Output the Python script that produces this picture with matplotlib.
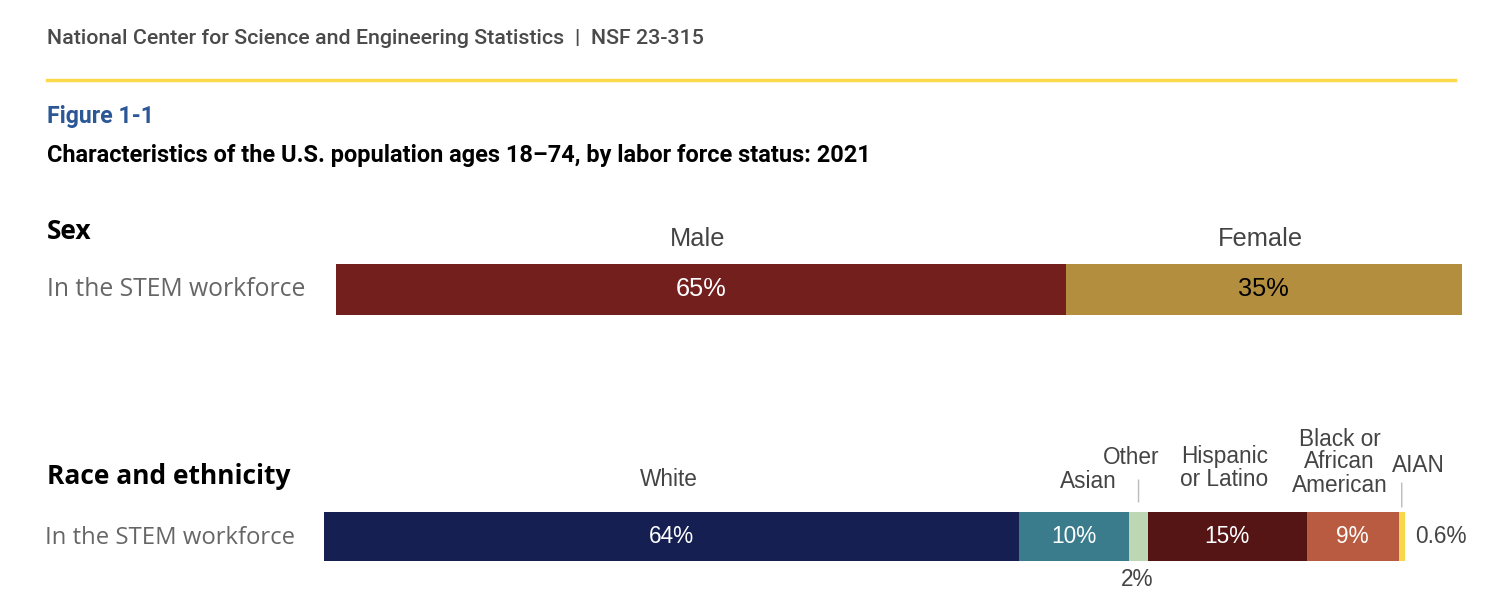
import matplotlib.pyplot as plt
import numpy as np

W, H = 1492, 610

# data
sex_cats = ['Male', 'Female']
sex_vals = [64.8, 35.2]
sex_labels = ['65%', '35%']
sex_colors = ['#731f1e', '#b38e3f']
sex_text = ['white', 'black']

race_cats = ['White', 'Asian', 'Other', 'Hispanic\nor Latino', 'Black or\nAfrican\nAmerican', 'AIAN']
race_vals = [64.3, 10.2, 1.7, 14.7, 8.5, 0.6]
race_labels = ['64%', '10%', '2%', '15%', '9%', '0.6%']
race_colors = ['#161f52', '#3a7c8c', '#bdd7b5', '#551514', '#b95b41', '#f8d84a']


def fx(x):
    return x / W


def fy(y):
    return 1 - y / H


fig = plt.figure(figsize=(W / 100, H / 100), dpi=100)
fig.patch.set_facecolor('white')

# header
fig.text(fx(47), fy(38), 'National Center for Science and Engineering Statistics  |  NSF 23-315',
         family='Roboto', weight='medium', fontsize=15.4, color='#4a4a4a', va='center')
fig.add_artist(plt.Line2D([fx(47), fx(1455)], [fy(80), fy(80)], color='#fbd94a', lw=2.5))
fig.text(fx(47), fy(116), 'Figure 1-1', family='Roboto', weight='bold', fontsize=16.7,
         color='#2b5796', va='center')
fig.text(fx(47), fy(156), 'Characteristics of the U.S. population ages 18\u201374, by labor force status: 2021',
         family='Roboto', weight='bold', fontsize=16.9, color='black', va='center')

fig.text(fx(47), fy(232), 'Sex', family='Open Sans', weight='bold', fontsize=19, color='black', va='center')
fig.text(fx(47), fy(290), 'In the STEM workforce', family='Open Sans', fontsize=17.8,
         color='#666666', va='center')
fig.text(fx(47), fy(477), 'Race and ethnicity', family='Open Sans', weight='bold', fontsize=19,
         color='black', va='center')
fig.text(fx(45), fy(538), 'In the STEM workforce', family='Open Sans', fontsize=17.2,
         color='#666666', va='center')

sex_font = dict(family='Liberation Sans', fontsize=18.3)
lab_font = dict(family='Liberation Sans', fontsize=16.3)

# sex bar
ax1 = fig.add_axes([fx(336), fy(315), fx(1462 - 336), (315 - 264) / H])
left = 0
for cat, v, lab, c, tc in zip(sex_cats, sex_vals, sex_labels, sex_colors, sex_text):
    ax1.barh(0, v, left=left, height=1, color=c)
    ax1.text(left + v / 2, 0, lab, color=tc, ha='center', va='center', **sex_font)
    ax1.annotate(cat, xy=(left + v / 2, 1), xycoords=('data', 'axes fraction'),
                 xytext=(-3, 25), textcoords='offset pixels', ha='center', va='center',
                 color='#444444', **sex_font)
    left += v
ax1.set_xlim(0, 100)
ax1.set_ylim(-0.5, 0.5)
ax1.axis('off')

# race bar
ax2 = fig.add_axes([fx(324), fy(561), fx(1405 - 324), (561 - 512) / H])
name_offsets = [(-3, 32), (14, 31), (-7, 55), (-3, 44), (-13, 50), (17, 46)]
leaders = {2: (10, 42), 5: (5, 34)}
left = 0
for i, (cat, v, lab, c) in enumerate(zip(race_cats, race_vals, race_labels, race_colors)):
    ax2.barh(0, v, left=left, height=1, color=c)
    mid = left + v / 2
    if v >= 5:
        ax2.text(mid, 0, lab, color='white', ha='center', va='center', **lab_font)
    elif i == 2:
        ax2.annotate(lab, xy=(mid, 0), xycoords=('data', 'axes fraction'),
                     xytext=(-1, -18), textcoords='offset pixels', ha='center', va='center',
                     color='#444444', **lab_font)
    else:
        ax2.annotate(lab, xy=(left + v, 0.5), xycoords=('data', 'axes fraction'),
                     xytext=(10, 0), textcoords='offset pixels', ha='left', va='center',
                     color='#444444', **lab_font)
    dx, dy = name_offsets[i]
    ax2.annotate(cat, xy=(mid, 1), xycoords=('data', 'axes fraction'),
                 xytext=(dx, dy), textcoords='offset pixels', ha='center', va='center',
                 color='#444444', linespacing=1.0, **lab_font)
    if i in leaders:
        a, b = leaders[i]
        ax2.annotate('', xy=(mid, 1), xycoords=('data', 'axes fraction'),
                     xytext=(0, b - a), textcoords='offset pixels',
                     arrowprops=dict(arrowstyle='-', color='#bbbbbb', lw=1,
                                     shrinkA=0, shrinkB=a * 0.72))
    left += v
ax2.set_xlim(0, 100)
ax2.set_ylim(-0.5, 0.5)
ax2.axis('off')

fig.savefig('out.png', dpi=100, facecolor='white')
